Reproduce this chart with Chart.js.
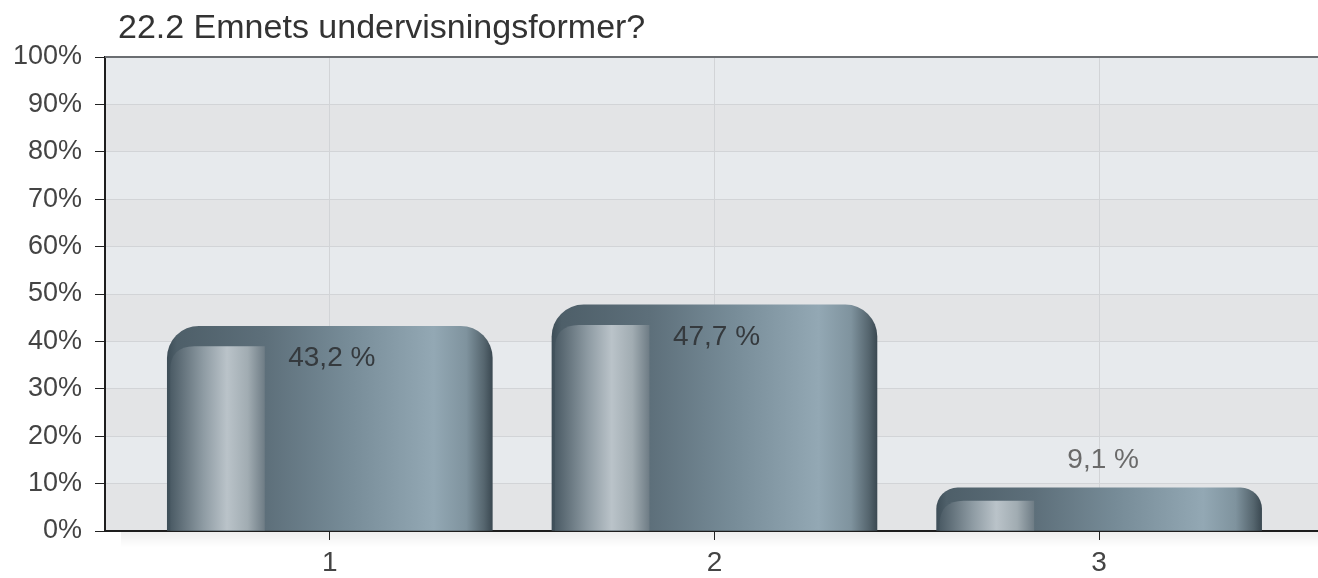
<!DOCTYPE html>
<html>
<head>
<meta charset="utf-8">
<script src="https://cdn.jsdelivr.net/npm/chart.js@4.4.1/dist/chart.umd.min.js"></script>
<style>
  html, body { margin: 0; padding: 0; background: #fff; }
  #wrap { width: 1318px; height: 578px; position: relative; }
</style>
</head>
<body>
<div id="wrap"><canvas id="chart"></canvas></div>
<script>
// Chart data
const title = '22.2 Emnets undervisningsformer?';
const categories = ['1', '2', '3'];
const percentages = [43.2, 47.7, 9.1];
const valueLabels = ['43,2 %', '47,7 %', '9,1 %'];
const yTicks = [0, 10, 20, 30, 40, 50, 60, 70, 80, 90, 100];

const FONT = '"Liberation Sans", Arial, Helvetica, sans-serif';

function bodyGradient(ctx, left, right) {
    const g = ctx.createLinearGradient(left, 0, right, 0);
    g.addColorStop(0, '#3e4e58');
    g.addColorStop(0.03, '#4e5f69');
    g.addColorStop(0.30, '#5d6f7a');
    g.addColorStop(0.55, '#768b97');
    g.addColorStop(0.82, '#93a8b4');
    g.addColorStop(0.92, '#7f939e');
    g.addColorStop(0.975, '#55656e');
    g.addColorStop(1, '#3b4952');
    return g;
}

// Plot background: alternating bands, top border, shadow under the x axis, title
const plotBackground = {
    id: 'plotBackground',
    beforeDraw(chart) {
        const { ctx, chartArea: a, scales: { y } } = chart;
        ctx.save();
        for (let i = 0; i < yTicks.length - 1; i++) {
            const top = y.getPixelForValue(yTicks[i + 1]);
            const bottom = y.getPixelForValue(yTicks[i]);
            ctx.fillStyle = i % 2 === 0 ? '#e3e4e6' : '#e7eaed';
            ctx.fillRect(a.left, top, a.right - a.left, bottom - top);
        }
        const sg = ctx.createLinearGradient(0, a.bottom, 0, a.bottom + 16);
        sg.addColorStop(0, 'rgba(0,0,0,0.07)');
        sg.addColorStop(1, 'rgba(0,0,0,0)');
        ctx.fillStyle = sg;
        ctx.fillRect(a.left + 16, a.bottom, a.right - a.left - 16, 16);
        ctx.restore();
    },
    afterDraw(chart) {
        const { ctx, chartArea: a } = chart;
        ctx.save();
        ctx.strokeStyle = '#6b6e72';
        ctx.lineWidth = 2;
        ctx.beginPath();
        ctx.moveTo(a.left, a.top);
        ctx.lineTo(a.right, a.top);
        ctx.stroke();
        ctx.fillStyle = '#333';
        ctx.font = '34px ' + FONT;
        ctx.textBaseline = 'alphabetic';
        ctx.fillText(title, 118, 38);
        ctx.restore();
    }
};

// Metallic fill, left highlight column and value labels on each bar
const barDecor = {
    id: 'barDecor',
    beforeDatasetsDraw(chart) {
        const meta = chart.getDatasetMeta(0);
        meta.data.forEach(bar => {
            bar.options.backgroundColor = bodyGradient(chart.ctx, bar.x - bar.width / 2, bar.x + bar.width / 2);
        });
    },
    afterDatasetsDraw(chart) {
        const { ctx } = chart;
        const meta = chart.getDatasetMeta(0);
        ctx.save();
        meta.data.forEach((bar, i) => {
            const { x, y, base, width } = bar;
            const left = x - width / 2;
            const h = base - y;
            const hl = left + 3;
            const hr = left + width * 0.30;
            const ht = y + Math.min(20, h * 0.3);
            const r = Math.min(24, base - ht);
            const g = ctx.createLinearGradient(hl, 0, hr, 0);
            g.addColorStop(0, '#4b5b65');
            g.addColorStop(0.35, '#8e9ba3');
            g.addColorStop(0.6, '#bac3c9');
            g.addColorStop(0.82, '#a1acb2');
            g.addColorStop(1, '#6e7c85');
            ctx.fillStyle = g;
            ctx.beginPath();
            ctx.moveTo(hl, base);
            ctx.lineTo(hl, ht + r);
            ctx.quadraticCurveTo(hl, ht, hl + r, ht);
            ctx.lineTo(hr, ht);
            ctx.lineTo(hr, base);
            ctx.closePath();
            ctx.fill();

            ctx.font = '28px ' + FONT;
            ctx.textAlign = 'center';
            ctx.textBaseline = 'middle';
            if (h > 60) {
                ctx.fillStyle = '#353a3e';
                ctx.fillText(valueLabels[i], x + 2, y + 32);
            } else {
                ctx.fillStyle = '#6a6a6a';
                ctx.fillText(valueLabels[i], x + 4, y - 28);
            }
        });
        ctx.restore();
    }
};

const ctx = document.getElementById('chart').getContext('2d');
new Chart(ctx, {
    type: 'bar',
    data: {
        datasets: [{
            data: percentages.map((v, i) => ({ x: i + 1, y: v })),
            // one colour per bar so each bar keeps its own options object
            backgroundColor: percentages.map(() => '#6a7d88'),
            borderWidth: 0,
            borderRadius: { topLeft: 32, topRight: 32, bottomLeft: 0, bottomRight: 0 },
            borderSkipped: 'bottom',
            barThickness: 325
        }]
    },
    options: {
        responsive: true,
        maintainAspectRatio: false,
        animation: false,
        layout: { padding: { top: 57, right: 0, left: 0, bottom: 0 } },
        plugins: {
            legend: { display: false },
            tooltip: { enabled: false }
        },
        scales: {
            x: {
                type: 'linear',
                offset: false,
                min: 0.4156,
                max: 3.569,
                afterBuildTicks: s => { s.ticks = categories.map((c, i) => ({ value: i + 1 })); },
                afterFit: s => { s.height = 47; },
                ticks: {
                    callback: v => categories[v - 1],
                    color: '#444',
                    font: { family: FONT, size: 28 },
                    padding: 6,
                    maxRotation: 0
                },
                grid: { offset: false, color: '#d2d4d7', tickColor: '#222', tickLength: 9, lineWidth: 1 },
                border: { color: '#1e1e1e', width: 2 }
            },
            y: {
                min: 0,
                max: 100,
                afterBuildTicks: s => { s.ticks = yTicks.map(v => ({ value: v })); },
                afterFit: s => { s.width = 105; },
                ticks: {
                    callback: v => v + '%',
                    color: '#444',
                    font: { family: FONT, size: 27 },
                    padding: 13
                },
                grid: { color: '#d2d4d7', tickColor: '#222', tickLength: 10, lineWidth: 1 },
                border: { color: '#1e1e1e', width: 2 }
            }
        }
    },
    plugins: [plotBackground, barDecor]
});
</script>
</body>
</html>
